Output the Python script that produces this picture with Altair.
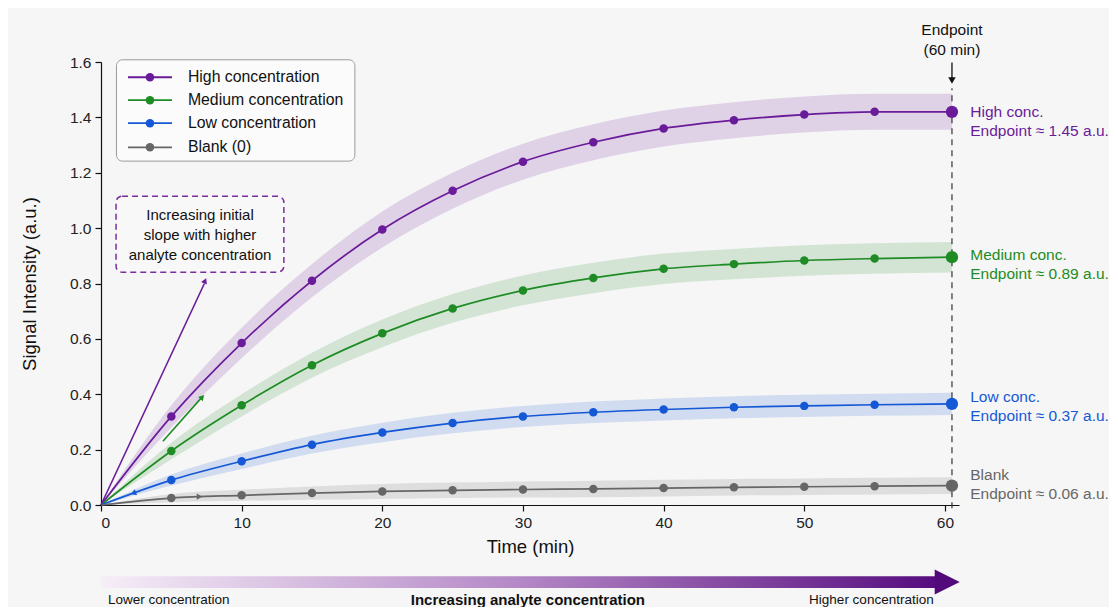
import altair as alt
import pandas as pd

FONT = "Liberation Sans"

series_names = ["High concentration", "Medium concentration", "Low concentration", "Blank (0)"]
series_colors = ["#6A1B9A", "#1E8B24", "#1558D6", "#666666"]
short_names = ["High conc.", "Medium conc.", "Low conc.", "Blank"]
endpoint_texts = ["Endpoint \u2248 1.45 a.u.", "Endpoint \u2248 0.89 a.u.",
                  "Endpoint \u2248 0.37 a.u.", "Endpoint \u2248 0.06 a.u."]

times = [0, 5, 10, 15, 20, 25, 30, 35, 40, 45, 50, 55, 60.5]
high = [0, 0.32, 0.585, 0.81, 0.995, 1.135, 1.24, 1.31, 1.36, 1.39, 1.41, 1.42, 1.42]
medium = [0, 0.195, 0.36, 0.505, 0.62, 0.71, 0.775, 0.82, 0.853, 0.87, 0.883, 0.89, 0.895]
low = [0, 0.09, 0.158, 0.218, 0.262, 0.296, 0.32, 0.335, 0.345, 0.353, 0.358, 0.362, 0.365]
blank = [0, 0.025, 0.035, 0.043, 0.049, 0.053, 0.056, 0.058, 0.061, 0.064, 0.066, 0.068, 0.07]

high_band = [0, 0.04, 0.055, 0.06, 0.065, 0.065, 0.065, 0.065, 0.065, 0.065, 0.065, 0.065, 0.065]
medium_band = [0, 0.03, 0.04, 0.045, 0.05, 0.052, 0.054, 0.055, 0.055, 0.055, 0.055, 0.055, 0.055]
low_band = [0, 0.02, 0.028, 0.032, 0.035, 0.037, 0.038, 0.039, 0.04, 0.04, 0.04, 0.04, 0.04]
blank_band = [0, 0.015, 0.02, 0.024, 0.027, 0.028, 0.029, 0.03, 0.03, 0.03, 0.03, 0.03, 0.03]

# first-line position of the right-hand endpoint labels (signal units)
label_y = [1.419, 0.903, 0.39, 0.108]

# legend rows (signal units)
legend_row_y = [1.545, 1.462, 1.379, 1.292]

values = [high, medium, low, blank]
bands = [high_band, medium_band, low_band, blank_band]

rows = []
for name, vals, bnd in zip(series_names, values, bands):
    for t, v, b in zip(times, vals, bnd):
        rows.append({"series": name, "time": t, "value": v, "lo": v - b, "hi": v + b})
df = pd.DataFrame(rows)
pts = df[(df.time > 0) & (df.time < 60)]
ends = df[df.time == times[-1]]

xs = alt.Scale(domain=[0, 61], nice=False, zero=False)
ys = alt.Scale(domain=[0, 1.6], nice=False, zero=False)
x_axis = alt.Axis(values=[0, 10, 20, 30, 40, 50, 60], title="Time (min)", grid=False,
                  titlePadding=7)
y_axis = alt.Axis(values=[0, 0.2, 0.4, 0.6, 0.8, 1.0, 1.2, 1.4, 1.6], format=".1f",
                  title="Signal Intensity (a.u.)", grid=False, titlePadding=30)


def X(f):
    return alt.X(f, type="quantitative", scale=xs, axis=x_axis)


def Y(f):
    return alt.Y(f, type="quantitative", scale=ys, axis=y_axis)


cscale = alt.Scale(domain=series_names, range=series_colors)
color = alt.Color("series:N", scale=cscale, legend=None)

band_layer = alt.Chart(df).mark_area(opacity=0.16, interpolate="monotone").encode(
    x=X("time"), y=Y("lo"), y2=alt.Y2("hi"), color=color)

line_layer = alt.Chart(df).mark_line(strokeWidth=1.7, interpolate="monotone").encode(
    x=X("time"), y=Y("value"), color=color)

pt_layer = alt.Chart(pts).mark_circle(size=72, opacity=1).encode(
    x=X("time"), y=Y("value"), color=color)

end_layer = alt.Chart(ends).mark_circle(size=150, opacity=1).encode(
    x=X("time"), y=Y("value"), color=color)

# endpoint dashed rule + top arrow and text
end_x = times[-1]
endline_df = pd.DataFrame({"x": [end_x], "y": [-0.012], "y2": [1.505]})
end_rule = alt.Chart(endline_df).mark_rule(color="#333333", strokeDash=[6, 5], strokeWidth=1.2).encode(
    x=X("x"), y=Y("y"), y2=alt.Y2("y2"))
endarrow_df = pd.DataFrame({"x": [end_x], "y": [1.598], "y2": [1.535]})
end_arrow = alt.Chart(endarrow_df).mark_rule(color="#111111", strokeWidth=1.3).encode(
    x=X("x"), y=Y("y"), y2=alt.Y2("y2"))
endhead_df = pd.DataFrame({"x": [end_x], "y": [1.533]})
end_head = alt.Chart(endhead_df).mark_point(shape="triangle-down", filled=True, size=55,
                                             color="#111111", opacity=1).encode(x=X("x"), y=Y("y"))
endtxt_df = pd.DataFrame({"x": [end_x, end_x], "y": [1.716, 1.644], "t": ["Endpoint", "(60 min)"]})
end_txt = alt.Chart(endtxt_df).mark_text(font=FONT, fontSize=15.5, color="#111111",
                                         align="center", baseline="middle").encode(
    x=X("x"), y=Y("y"), text="t:N")

# right-hand labels
lab1 = pd.DataFrame({"series": series_names, "x": [61.8] * 4, "y": label_y, "t": short_names})
lab2 = pd.DataFrame({"series": series_names, "x": [61.8] * 4, "y": label_y, "t": endpoint_texts})
lab1_layer = alt.Chart(lab1).mark_text(font=FONT, fontSize=15.5, align="left", baseline="middle").encode(
    x=X("x"), y=Y("y"), text="t:N", color=color)
lab2_layer = alt.Chart(lab2).mark_text(font=FONT, fontSize=15.5, align="left", baseline="middle", dy=19).encode(
    x=X("x"), y=Y("y"), text="t:N", color=color)

# manual legend
legbox_df = pd.DataFrame({"x": [1.1], "x2": [18.05], "y": [1.608], "y2": [1.242]})
leg_box = alt.Chart(legbox_df).mark_rect(fill="#fbfbfb", stroke="#9a9a9a", strokeWidth=1,
                                         cornerRadius=6).encode(
    x=X("x"), x2=alt.X2("x2"), y=Y("y"), y2=alt.Y2("y2"))
leg_df = pd.DataFrame({"series": series_names, "x": [1.92] * 4, "x2": [5.05] * 4,
                       "xc": [3.48] * 4, "xt": [6.18] * 4, "y": legend_row_y})
leg_lines = alt.Chart(leg_df).mark_rule(strokeWidth=1.8).encode(
    x=X("x"), x2=alt.X2("x2"), y=Y("y"), color=color)
leg_pts = alt.Chart(leg_df).mark_circle(size=72, opacity=1).encode(
    x=X("xc"), y=Y("y"), color=color)
leg_txt = alt.Chart(leg_df).mark_text(font=FONT, fontSize=15.8, align="left", baseline="middle",
                                      color="#111111").encode(
    x=X("xt"), y=Y("y"), text="series:N")

# annotation box
ann_box_df = pd.DataFrame({"x": [1.07], "x2": [13.0], "y": [1.115], "y2": [0.841]})
ann_box = alt.Chart(ann_box_df).mark_rect(fill="#f8f8f8", stroke="#7B2D9E", strokeWidth=1.5,
                                          strokeDash=[6, 4], cornerRadius=6).encode(
    x=X("x"), x2=alt.X2("x2"), y=Y("y"), y2=alt.Y2("y2"))
ann_txt_df = pd.DataFrame({"x": [7.04] * 3, "y": [1.047, 0.975, 0.902],
                           "t": ["Increasing initial", "slope with higher", "analyte concentration"]})
ann_txt = alt.Chart(ann_txt_df).mark_text(font=FONT, fontSize=15, color="#111111",
                                          align="center", baseline="middle").encode(
    x=X("x"), y=Y("y"), text="t:N")

# slope arrows
arr_df = pd.DataFrame({"series": ["High concentration", "Medium concentration"],
                       "x": [0.0, 4.4], "y": [0.0, 0.23], "x2": [7.35, 7.1], "y2": [0.8, 0.385]})
arr_lines = alt.Chart(arr_df).mark_rule(strokeWidth=1.6).encode(
    x=X("x"), y=Y("y"), x2=alt.X2("x2"), y2=alt.Y2("y2"), color=color)
head_df = pd.DataFrame({"series": ["High concentration", "Medium concentration", "Low concentration", "Blank (0)"],
                        "x": [7.4, 7.2, 2.3, 7.0], "y": [0.81, 0.39, 0.043, 0.03], "ang": [25, 42, 250, 90]})
arr_heads = alt.Chart(head_df).mark_point(shape="triangle-up", filled=True, size=40, opacity=1).encode(
    x=X("x"), y=Y("y"), color=color, angle=alt.Angle("ang:Q", scale=None))

# bottom gradient arrow
grad = alt.Gradient(gradient="linear", x1=0, x2=1, y1=0, y2=0,
                    stops=[alt.GradientStop(color="#f6eef8", offset=0),
                           alt.GradientStop(color="#b488c6", offset=0.5),
                           alt.GradientStop(color="#560c7e", offset=1)])
gbar_df = pd.DataFrame({"x": [0.0], "x2": [59.4], "y": [-0.257], "y2": [-0.300]})
gbar = alt.Chart(gbar_df).mark_rect(fill=grad).encode(
    x=X("x"), x2=alt.X2("x2"), y=Y("y"), y2=alt.Y2("y2"))
ghead_df = pd.DataFrame({"x": [60.16], "y": [-0.2785]})
ghead = alt.Chart(ghead_df).mark_point(shape="M-1,-1L1,0L-1,1Z", filled=True, size=625,
                                       color="#520a7a", opacity=1).encode(x=X("x"), y=Y("y"))
gtxt_df = pd.DataFrame({"x": [0.5, 30.35, 59.2], "y": [-0.343] * 3,
                        "t": ["Lower concentration", "Increasing analyte concentration", "Higher concentration"]})
gtxt_l = alt.Chart(gtxt_df.iloc[[0]]).mark_text(font=FONT, fontSize=13.5, align="left", baseline="middle",
                                                 color="#111111").encode(x=X("x"), y=Y("y"), text="t:N")
gtxt_c = alt.Chart(gtxt_df.iloc[[1]]).mark_text(font=FONT, fontSize=15, fontWeight="bold", align="center",
                                                 baseline="middle", color="#111111").encode(
    x=X("x"), y=Y("y"), text="t:N")
gtxt_r = alt.Chart(gtxt_df.iloc[[2]]).mark_text(font=FONT, fontSize=13.5, align="right", baseline="middle",
                                                 color="#111111").encode(x=X("x"), y=Y("y"), text="t:N")

chart = alt.layer(
    band_layer, end_rule, line_layer, pt_layer, end_layer,
    end_arrow, end_head, end_txt, lab1_layer, lab2_layer,
    ann_box, ann_txt, arr_lines, arr_heads,
    leg_box, leg_lines, leg_pts, leg_txt,
    gbar, ghead, gtxt_l, gtxt_c, gtxt_r,
).properties(
    width=858, height=443,
    padding={"left": 93, "top": 54, "right": 150, "bottom": 102},
    autosize=alt.AutoSizeParams(type="none"),
    background="#f6f6f6",
).configure_view(stroke=None).configure_axis(
    labelFont=FONT, titleFont=FONT, labelFontSize=15.5, titleFontSize=18.5,
    titleFontWeight="normal", labelColor="#222222", titleColor="#111111",
    domainColor="#111111", tickColor="#111111", tickSize=6, domainWidth=1.2, tickWidth=1.2,
    labelPadding=4,
)

chart.save("out.html", embed_options={"renderer": "svg", "actions": False})
